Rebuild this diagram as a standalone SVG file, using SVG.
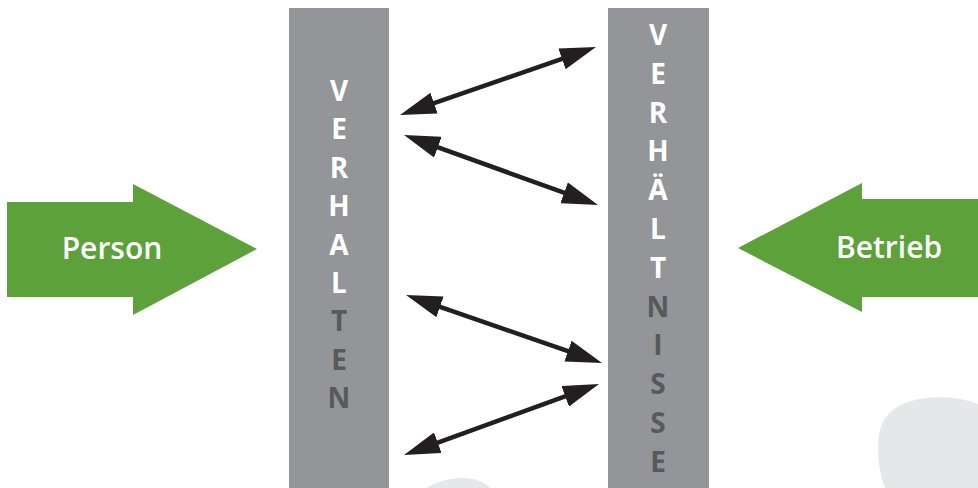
<svg xmlns="http://www.w3.org/2000/svg" width="978" height="488" viewBox="0 0 978 488">
  <style>
    .bar { fill: #939598; }
    .lt { font-family: "Open Sans", "Liberation Sans", sans-serif; font-weight: 700; font-size: 28px; text-anchor: middle; }
    .w { fill: #ffffff; }
    .d { fill: #58595b; }
    .green { fill: #5ca139; }
    .lbl { font-family: "Open Sans", "Liberation Sans", sans-serif; font-weight: 600; font-size: 30px; fill: #ffffff; text-anchor: middle; }
    .conn { stroke: #231f20; stroke-width: 4.5; fill: none; marker-start: url(#ah); marker-end: url(#ah); }
    .blob { fill: #e6e7e8; }
  </style>
  <defs>
    <marker id="ah" viewBox="0 0 36 22" markerUnits="userSpaceOnUse" markerWidth="36" markerHeight="22" refX="16" refY="11" orient="auto-start-reverse">
      <path d="M0,0 L36,11 L0,22 z" fill="#231f20"/>
    </marker>
  </defs>
  <rect width="978" height="488" fill="#ffffff"/>
  <path class="blob" d="M885,488 C878,470 876,445 880,430 C884,415 895,405 915,400 C935,396 955,396 978,404 L978,488 Z"/>
  <path class="blob" d="M427,488 C435,482 450,478 462,478 C475,478 485,482 490,488 Z"/>

  <g id="verhalten">
    <rect class="bar" x="289" y="8" width="100" height="480"/>
    <text class="lt w" x="339" y="101">V</text>
    <text class="lt w" x="339" y="139.4">E</text>
    <text class="lt w" x="339" y="177.8">R</text>
    <text class="lt w" x="339" y="216.2">H</text>
    <text class="lt w" x="339" y="254.6">A</text>
    <text class="lt w" x="339" y="293">L</text>
    <text class="lt d" x="339" y="331.4">T</text>
    <text class="lt d" x="339" y="369.8">E</text>
    <text class="lt d" x="339" y="408.2">N</text>
  </g>

  <g id="verhaeltnisse">
    <rect class="bar" x="608" y="8" width="101" height="480"/>
    <text class="lt w" x="658" y="45">V</text>
    <text class="lt w" x="658" y="83.8">E</text>
    <text class="lt w" x="658" y="122.6">R</text>
    <text class="lt w" x="658" y="161.4">H</text>
    <text class="lt w" x="658" y="200.2">Ä</text>
    <text class="lt w" x="658" y="239">L</text>
    <text class="lt w" x="658" y="277.8">T</text>
    <text class="lt d" x="658" y="316.6">N</text>
    <text class="lt d" x="658" y="355.4">I</text>
    <text class="lt d" x="658" y="394.2">S</text>
    <text class="lt d" x="658" y="433">S</text>
    <text class="lt d" x="658" y="471.8">E</text>
  </g>

  <g id="person">
    <polygon class="green" points="7,202 133,202 133,184 257,249 133,315 133,297 7,297"/>
    <text class="lbl" x="112" y="259">Person</text>
  </g>

  <g id="betrieb">
    <polygon class="green" points="978,199 862,199 862,183 738,248 862,312 862,297 978,297"/>
    <text class="lbl" x="889" y="258">Betrieb</text>
  </g>

  <g id="connectors">
    <line class="conn" x1="418.9" y1="108.4" x2="577.1" y2="53.6"/>
    <line class="conn" x1="422.8" y1="141.8" x2="579.2" y2="198.2"/>
    <line class="conn" x1="424.9" y1="301.6" x2="583.1" y2="356.4"/>
    <line class="conn" x1="422.8" y1="448.2" x2="580.2" y2="390.8"/>
  </g>
</svg>
